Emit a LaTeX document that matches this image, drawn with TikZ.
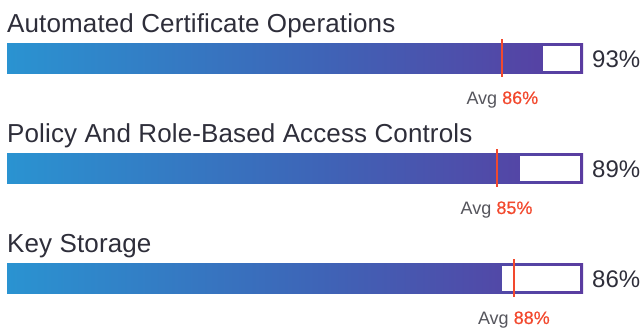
\documentclass[tikz,border=0pt]{standalone}
\usepackage{fontspec}
\setmainfont{Liberation Sans}
\begin{document}
\definecolor{barblue}{HTML}{2A93D1}
\definecolor{barmid}{HTML}{3C68B9}
\definecolor{barpurple}{HTML}{5A3CA0}
\definecolor{inkdark}{HTML}{2E2E3A}
\definecolor{inkgray}{HTML}{55555C}
\definecolor{avgred}{HTML}{F2492E}
\begin{tikzpicture}[x=1pt,y=-1pt,
  title/.style={anchor=base west,inner sep=0pt,text=inkdark,font=\fontsize{26}{26}\selectfont\addfontfeature{LetterSpace=0.5}},
  pct/.style={anchor=base west,inner sep=0pt,text=inkdark,font=\fontsize{24}{24}\selectfont},
  avglabel/.style={anchor=base,inner sep=0pt,text=inkgray,font=\fontsize{18}{18}\selectfont},
  avgmark/.style={draw=avgred,line width=2pt}]
\useasboundingbox (0,0) rectangle (644,327);
% one row: #1 top of bar, #2 title, #3 score, #4 average, #5 row id
\newcommand\ratingbar[5]{%
  \node[title] (t#5) at (7,#1-11) {#2};
  \shade[left color=barblue,right color=barpurple,middle color=barmid]
    (7,#1) rectangle (583,#1+30);
  \coordinate (b#5) at (7,#1);
  \fill[white] (7+5.76*#3,#1+3) rectangle (580,#1+27.5);
  \node[pct] (p#5) at (592,#1+24) {#3\%};
  \coordinate (ma#5) at (7+5.76*#4,#1-4);
  \coordinate (mb#5) at (7+5.76*#4,#1+34);
  \draw[avgmark] (ma#5) -- (mb#5);
  \node[avglabel] (a#5) at (7+5.76*#4,#1+61) {Avg {\color{avgred}\addfontfeature{FakeBold=0.6}#4\%}};
}
\ratingbar{43}{Automated Certificate Operations}{93}{86}{1}
\ratingbar{153}{Policy And Role-Based Access Controls}{89}{85}{2}
\ratingbar{263}{Key Storage}{86}{88}{3}
\end{tikzpicture}
\end{document}
